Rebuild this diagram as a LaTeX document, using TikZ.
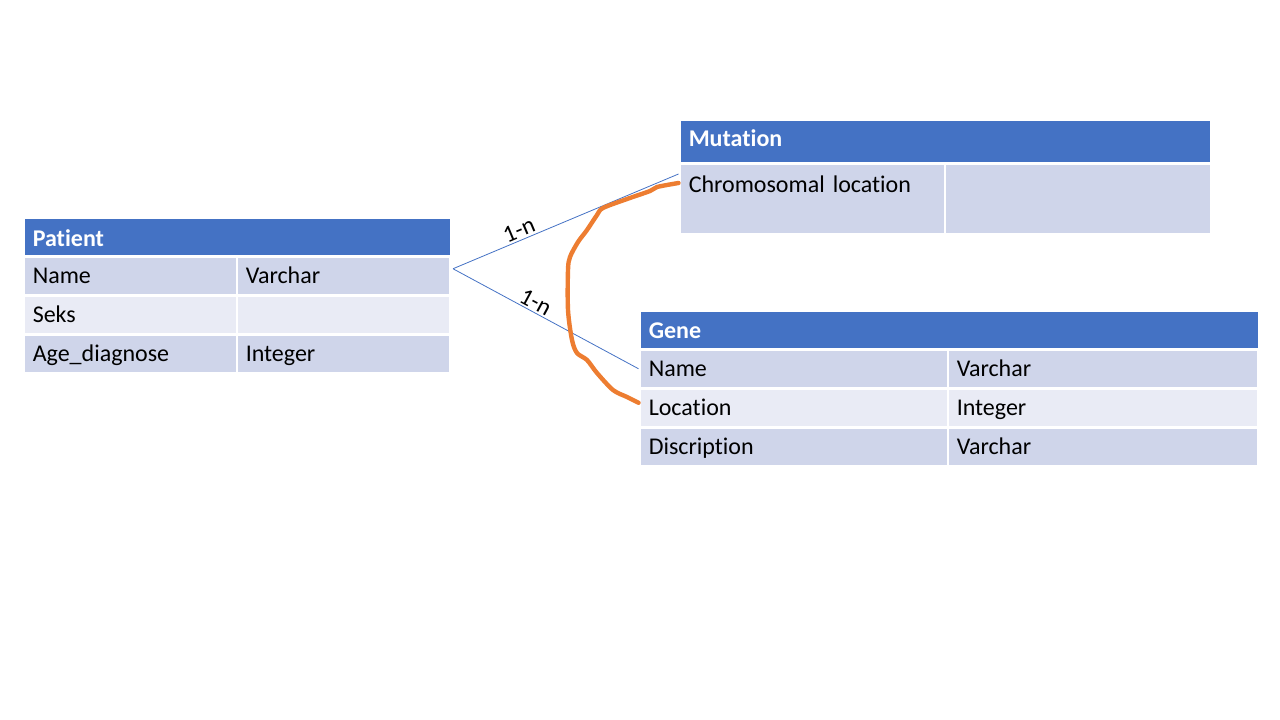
\documentclass[tikz,border=0pt]{standalone}
\usepackage{fontspec}
\setmainfont{Carlito}[RawFeature={-liga;-clig;-dlig}]
\usetikzlibrary{positioning}
\definecolor{hdrblue}{HTML}{4472C4}
\definecolor{rowdark}{HTML}{CFD5EA}
\definecolor{rowlight}{HTML}{E9EBF5}
\definecolor{penorange}{HTML}{ED7D31}
\newcommand\cellfont{\fontsize{24}{28}\selectfont}
\tikzset{
  cell/.style={draw=white, line width=2.5pt, anchor=north west, inner xsep=9pt,
    inner ysep=0pt, align=left, font=\cellfont, text height=27pt, text depth=12pt
  },
  hdr/.style={cell, fill=hdrblue, text=white, font=\cellfont\bfseries
  },
  rel/.style={draw=hdrblue, line width=0.8pt
  },
  scribble/.style={draw=penorange, line width=4.4pt, line cap=round, line join=round
  }
}
\begin{document}
\begin{tikzpicture}[x=1pt, y=-1pt]
 \useasboundingbox (0,0) rectangle (1280,720);

 % Patient
 \node[hdr, text width=409pt, text height=29pt, text depth=10pt] (patient) at (22.5,216) {Patient};
 \foreach \y/\a/\b/\c [count=\i] in {255/Name/Varchar/rowdark, 294/Seks//rowlight, 333/Age\_diagnose/Integer/rowdark} {
   \node[cell, fill=\c, text width=195pt] (pat\i a) at (22.5,\y) {\a};
   \node[cell, fill=\c, text width=195pt] (pat\i b) at (235.5,\y) {\b};
  }

 % Mutation
 \node[hdr, text width=513pt, text depth=17pt] (mutation) at (678.5,118) {Mutat\kern0pt ion};
 \node[cell, fill=rowdark, text width=247pt, text height=29pt, text depth=42pt] (mut1a) at (678.5,162) {Chromosomal location};
 \node[cell, fill=rowdark, text width=248pt, text height=29pt, text depth=42pt] (mut1b) at (943.5,162) {};

 % Gene
 \node[hdr, text width=601pt, text height=28pt, text depth=11pt] (gene) at (638.5,309) {Gene};
 \foreach \y/\a/\b/\c [count=\i] in {348/Name/Varchar/rowdark, 387/Location/Integer/rowlight, 426/Discription/Varchar/rowdark} {
   \node[cell, fill=\c, text width=290pt] (gen\i a) at (638.5,\y) {\a};
   \node[cell, fill=\c, text width=292pt] (gen\i b) at (946.5,\y) {\b};
  }

 \coordinate (relsrc) at ([xshift=2pt, yshift=7pt]pat1b.east);
 \draw[rel] (relsrc) -- ([yshift=-12pt]mut1a.north west)
   node[pos=0.31, sloped, above, inner sep=2pt, font=\cellfont, text=black] {1-n};
 \draw[rel] (relsrc) -- (gen1a.west)
   node[pos=0.42, sloped, above, inner sep=2pt, font=\cellfont, text=black] {1-n};

 \draw[scribble] plot[smooth, tension=0.5] coordinates {([yshift=-21pt]mut1a.north west) (657,187) (650,191)
   (627,199) (603,208) (597,215) (587,230) (578,242) (570,257) (568,270) (568,310) (572,340)
   (577,353) (587,360) (597,373) (613,390) (627,397) ([yshift=5pt]gen2a.west)};
\end{tikzpicture}
\end{document}
